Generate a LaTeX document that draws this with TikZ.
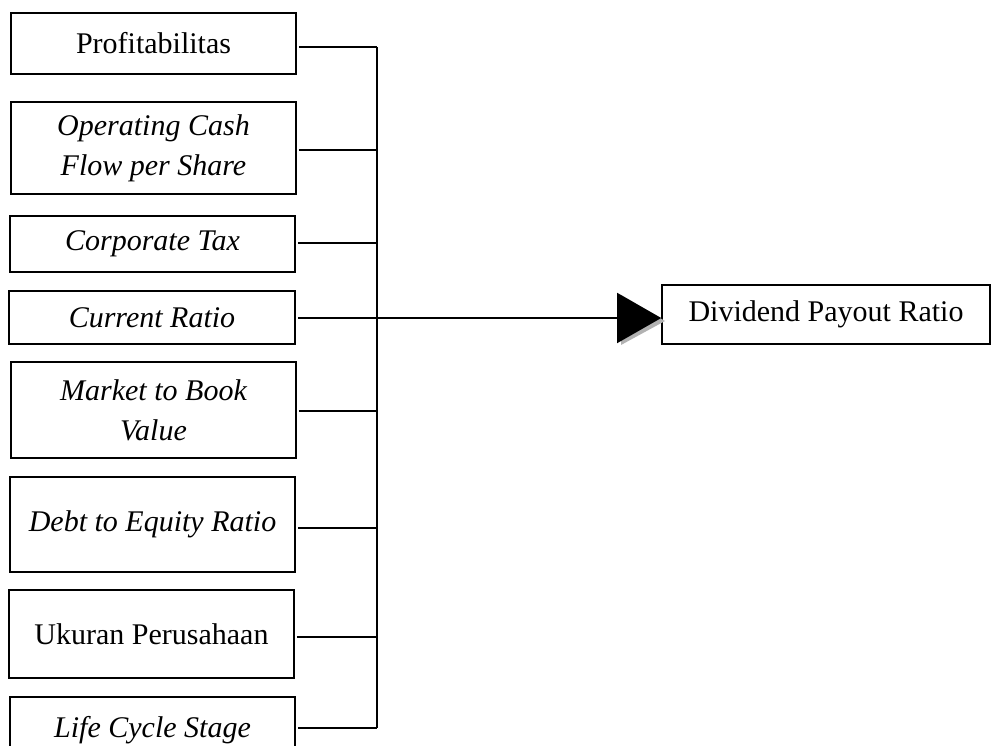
\documentclass[tikz,border=0pt]{standalone}
\usepackage{fontspec}
\setmainfont{Liberation Serif}
\usetikzlibrary{arrows.meta}
\begin{document}
\begin{tikzpicture}[x=1pt,y=-1pt,
  varbox/.style={draw, line width=1.6pt, minimum width=285pt, align=center, inner sep=0pt,
    font=\fontsize{30}{40}\selectfont\itshape},
  uprightbox/.style={varbox, font=\fontsize{30}{40}\selectfont},
  link/.style={line width=1.6pt},
  shadowtri/.style={fill=black!30, draw=none}]
\useasboundingbox (0,0) rectangle (991,746);
% independent variables
\node[uprightbox, minimum height=61pt] (v1) at (153.5,43.5) {Profitabilitas};
\node[varbox, minimum height=92pt] (v2) at (153.5,148) {Operating Cash\\Flow per Share};
\node[varbox, minimum height=56pt] (v3) at (152.5,244) {Corporate Tax};
\node[varbox, minimum height=53pt, minimum width=286pt] (v4) at (152,317.5) {Current Ratio};
\node[varbox, minimum height=96pt] (v5) at (153.5,410) {Market to Book\\Value};
\node[varbox, minimum height=95pt] (v6) at (152.5,524.5) {Debt to Equity Ratio};
\node[uprightbox, minimum height=88pt] (v7) at (151.5,634) {Ukuran Perusahaan};
\node[varbox, minimum height=66pt, text depth=0pt] (v8) at (152.5,730) {};
\node[font=\fontsize{30}{40}\selectfont\itshape, inner sep=0pt, anchor=base] (v8t) at (152.5,737) {Life Cycle Stage};
% dependent variable
\node[uprightbox, minimum width=328pt, minimum height=59pt] (dpr) at (826,314.5) {Dividend Payout Ratio};
% bus junctions
\coordinate (j1) at (377,47);
\coordinate (j2) at (377,150);
\coordinate (j3) at (377,243);
\coordinate (j4) at (377,318);
\coordinate (j5) at (377,411);
\coordinate (j6) at (377,528);
\coordinate (j7) at (377,637);
\coordinate (j8) at (377,728);
\draw[link] ([xshift=2pt]v1.east |- j1) -- (j1);
\draw[link] ([xshift=2pt]v2.east |- j2) -- (j2);
\draw[link] ([xshift=2pt]v3.east |- j3) -- (j3);
\draw[link] ([xshift=2pt]v4.east |- j4) -- (j4);
\draw[link] ([xshift=2pt]v5.east |- j5) -- (j5);
\draw[link] ([xshift=2pt]v6.east |- j6) -- (j6);
\draw[link] ([xshift=2pt]v7.east |- j7) -- (j7);
\draw[link] ([xshift=2pt]v8.east |- j8) -- (j8);
\draw[link] (j1) -- (j8);
% arrow with shadow
\fill[shadowtri] (621,295) -- (665,321) -- (621,345) -- cycle;
\draw[link, -{Triangle[length=44pt,width=50pt]}] (j4) -- (dpr.west |- j4);
\end{tikzpicture}
\end{document}
